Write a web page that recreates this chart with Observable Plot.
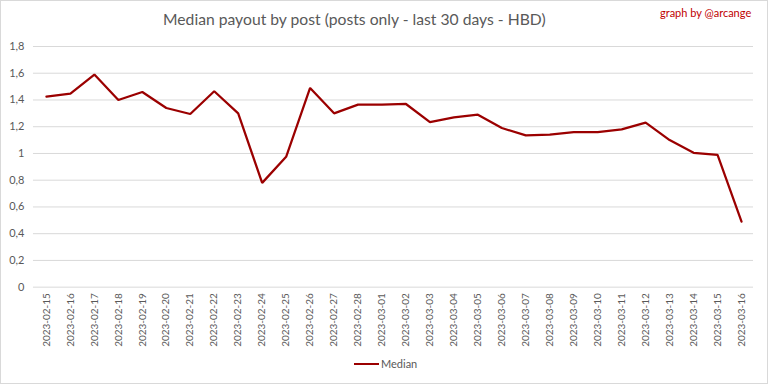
<!DOCTYPE html>
<html>
<head>
<meta charset="utf-8">
<script src="https://cdn.jsdelivr.net/npm/d3@7"></script>
<script src="https://cdn.jsdelivr.net/npm/@observablehq/plot@0.6"></script>
<style>
  html, body { margin: 0; padding: 0; background: #fff; }
  #wrap { position: relative; width: 766px; height: 382px; border: 1px solid #d9d9d9; background: #fff; font-family: Lato, "Noto Sans", sans-serif; overflow: hidden; }
  #title { position: absolute; left: 162px; top: 9px; white-space: nowrap; font-size: 15.7px; color: #595959; }
  #credit { position: absolute; left: 659px; top: 5px; font-size: 11px; color: #c00000; }
  #chart { position: absolute; left: -1px; top: 34px; }
  #legend { position: absolute; left: 353px; top: 356px; font-size: 11px; color: #595959; display: flex; align-items: center; }
  #legend .sw { width: 25px; height: 2px; background: #9b0000; margin-right: 2px; }
</style>
</head>
<body>
<div id="wrap">
  <div id="title">Median payout by post (posts only - last 30 days - HBD)</div>
  <div id="credit">graph by @arcange</div>
  <div id="chart"></div>
  <div id="legend"><span class="sw"></span><span>Median</span></div>
</div>
<script>
const dates = [
  "2023-02-15","2023-02-16","2023-02-17","2023-02-18","2023-02-19","2023-02-20",
  "2023-02-21","2023-02-22","2023-02-23","2023-02-24","2023-02-25","2023-02-26",
  "2023-02-27","2023-02-28","2023-03-01","2023-03-02","2023-03-03","2023-03-04",
  "2023-03-05","2023-03-06","2023-03-07","2023-03-08","2023-03-09","2023-03-10",
  "2023-03-11","2023-03-12","2023-03-13","2023-03-14","2023-03-15","2023-03-16"
];
const median = [
  1.425, 1.447, 1.59, 1.40, 1.46, 1.34,
  1.295, 1.465, 1.30, 0.78, 0.975, 1.49,
  1.30, 1.365, 1.365, 1.37, 1.235, 1.27,
  1.29, 1.19, 1.135, 1.14, 1.16, 1.16,
  1.18, 1.23, 1.10, 1.005, 0.99, 0.49
];
const yTicks = [0, 0.2, 0.4, 0.6, 0.8, 1, 1.2, 1.4, 1.6, 1.8];

const data = dates.map((d, i) => ({date: d, value: median[i]}));
const fmt = v => d3.format("~g")(v).replace(".", ",");

const chart = Plot.plot({
  width: 768,
  height: 320,
  marginTop: 11,
  marginBottom: 68,
  marginLeft: 33,
  marginRight: 14,
  style: {fontFamily: "Lato, 'Noto Sans', sans-serif", fontSize: "10px", color: "#595959", background: "#fff"},
  x: {type: "point", domain: dates, padding: 0.5, label: null},
  y: {domain: [0, 1.8], label: null},
  marks: [
    Plot.gridY(yTicks, {stroke: "#d9d9d9", strokeOpacity: 1, strokeWidth: 1}),
    Plot.axisY({ticks: yTicks, tickSize: 0, tickPadding: 9, tickFormat: fmt, fontSize: 11, label: null}),
    Plot.axisX({tickSize: 0, tickPadding: 6, tickRotate: -90, label: null, fontSize: 10}),
    Plot.line(data, {x: "date", y: "value", stroke: "#9b0000", strokeWidth: 2.25, strokeLinejoin: "miter"})
  ]
});
document.getElementById("chart").appendChild(chart);
</script>
</body>
</html>
